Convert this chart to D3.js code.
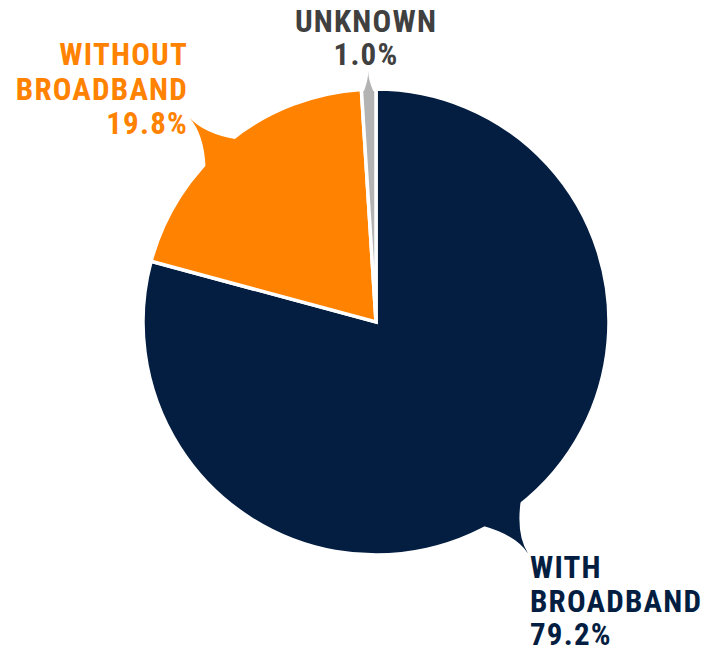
<!DOCTYPE html>
<html><head><meta charset="utf-8">
<script src="https://cdn.jsdelivr.net/npm/d3@7"></script>
<style>body{margin:0;background:#fff}svg{display:block}</style>
</head><body>
<svg id="c" width="706" height="649"></svg>
<script>
const categories = ["WITH BROADBAND", "WITHOUT BROADBAND", "UNKNOWN"];
const labelLines = [["WITH", "BROADBAND"], ["WITHOUT", "BROADBAND"], ["UNKNOWN"]];
const values = [79.2, 19.8, 1.0];
const colors = ["#041E42", "#FF8200", "#B3B3B3"];
const labelColors = ["#041E42", "#FF8200", "#404040"];

const W = 706, H = 649;
const cx = 376, cy = 322, R = 233;
const svg = d3.select("#c");
const g = svg.append("g").attr("transform", `translate(${cx},${cy})`);

const pie = d3.pie().sort(null).value(d => d)(values);
const arc = d3.arc().innerRadius(0).outerRadius(R);

g.selectAll("path.slice").data(pie).join("path")
  .attr("class", "slice")
  .attr("d", arc)
  .attr("fill", (d, i) => colors[i])
  .attr("stroke", "#fff").attr("stroke-width", 3.5).attr("stroke-linejoin", "miter");

// speech-bubble tails: [base angle 1, base angle 2, tip angle, tip radius] in degrees
const tails = [
  [141, 152.4, 146.7, 277],
  [312.2, 322.6, 317.6, 277],
  [356.9, 359.4, 358.2, 251]
];
const rad = a => a * Math.PI / 180;
const pol = (a, r) => [r * Math.sin(rad(a)), -r * Math.cos(rad(a))];
tails.forEach((t, i) => {
  const rin = R - 3;
  const a1 = pol(t[0], rin), a2 = pol(t[1], rin);
  const tip = pol(t[2], t[3]);
  const ctrl = pol(t[2], R + (t[3] - R) * 0.5);
  const p = d3.path();
  p.moveTo(a1[0], a1[1]);
  p.quadraticCurveTo(ctrl[0], ctrl[1], tip[0], tip[1]);
  p.quadraticCurveTo(ctrl[0], ctrl[1], a2[0], a2[1]);
  p.arc(0, 0, rin, rad(t[1]) - Math.PI / 2, rad(t[0]) - Math.PI / 2, true);
  p.closePath();
  g.append("path").attr("d", p.toString()).attr("fill", colors[i]);
});

// labels
const fmt = d3.format(".1f");
const labelPos = [
  {x: 530, y: 578, anchor: "start", lh: 33.5},
  {x: 188, y: 65, anchor: "end", lh: 34.5},
  {x: 366, y: 32, anchor: "middle", lh: 33}
];
labelPos.forEach((p, i) => {
  const lines = labelLines[i].concat([fmt(values[i]) + "%"]);
  const t = svg.append("text")
    .attr("transform", `translate(${p.x},${p.y})`)
    .attr("text-anchor", p.anchor)
    .attr("fill", labelColors[i])
    .style("font-family", "'Roboto Condensed', Roboto, 'Liberation Sans Narrow', sans-serif")
    .style("font-weight", 700)
    .style("font-size", "31px")
    .style("letter-spacing", "1.2px");
  lines.forEach((l, k) => t.append("tspan").attr("x", 0).attr("y", k * p.lh).text(l));
});
</script>
</body></html>
